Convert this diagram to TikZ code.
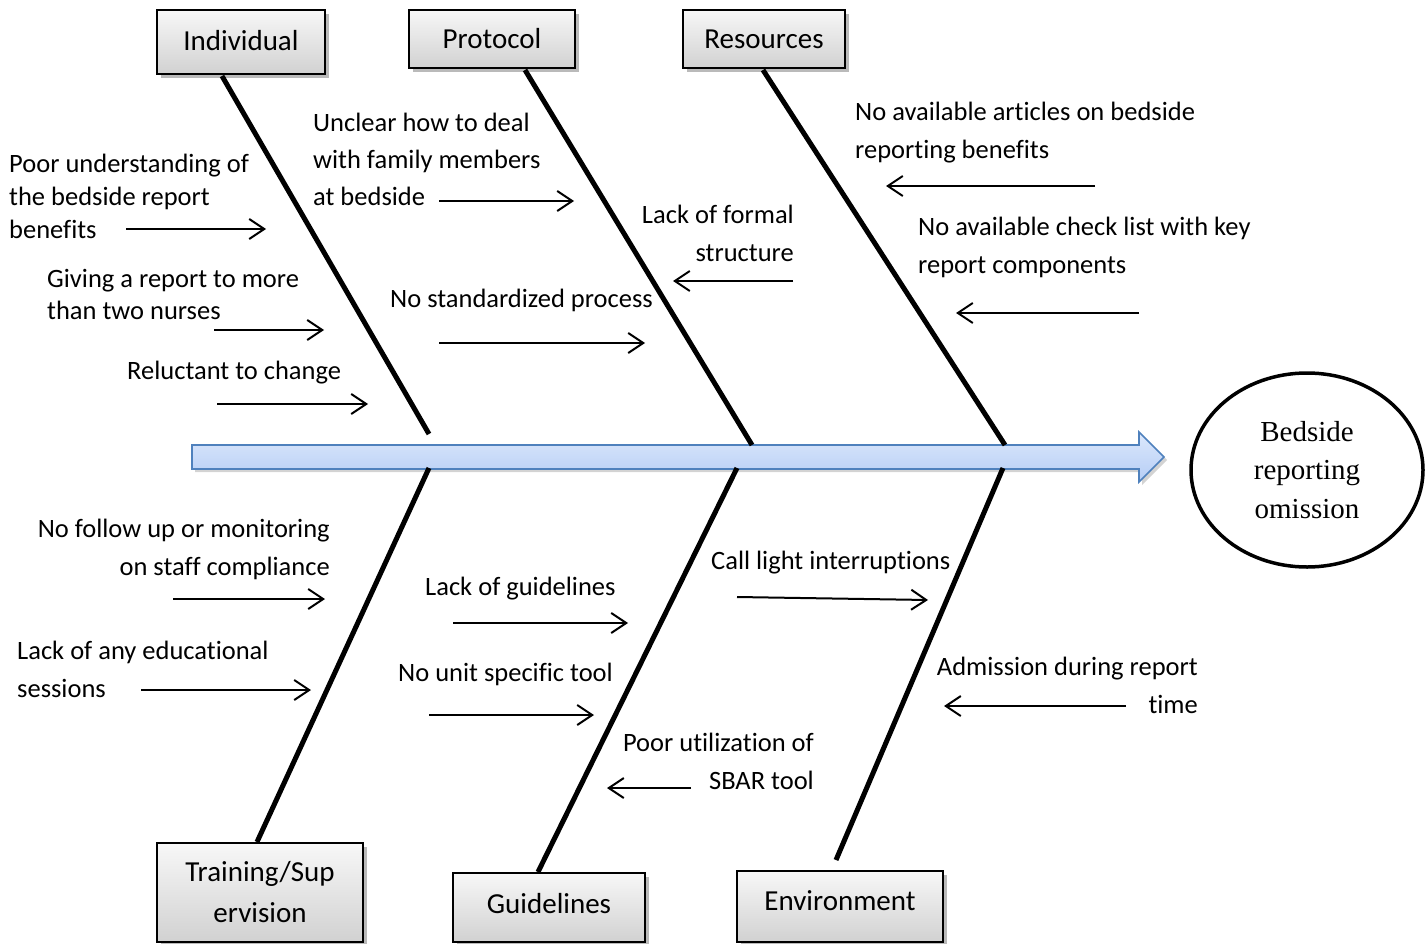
\documentclass[tikz,border=0pt]{standalone}
\usepackage{fontspec}
\setmainfont[Ligatures=NoCommon]{Carlito}
\newfontfamily\tnr{Liberation Serif}
\usetikzlibrary{arrows.meta,shapes.geometric,shadows}
\definecolor{spineborder}{HTML}{4F81BD}
\definecolor{spinetop}{HTML}{DCE8FC}
\definecolor{spinebot}{HTML}{B5CDF5}
\tikzset{
  lbl/.style={inner sep=0pt, font=\fontsize{26.5}{32}\selectfont},
  catbox/.style={draw=black, line width=1.5pt, top color=gray!6, bottom color=gray!36,
     inner sep=0pt, align=center, font=\fontsize{29}{41}\selectfont,
     drop shadow={shadow xshift=4pt, shadow yshift=-4pt, opacity=0.45, fill=black!60}},
  bone/.style={line width=5pt},
  cause/.style={line width=2pt, -{Straight Barb[length=15pt,width=20pt,line width=2pt]}},
}
\begin{document}
\begin{tikzpicture}[x=1pt,y=-1pt]
\useasboundingbox (0,0) rectangle (1426,944);

% category boxes
\node[catbox, minimum width=168pt, minimum height=64pt, text depth=4pt] (ind) at (241,42) {Individual};
\node[catbox, minimum width=166pt, minimum height=58pt] (pro) at (492,39) {Protocol};
\node[catbox, minimum width=162pt, minimum height=58pt] (res) at (764,39) {Resources};
\node[catbox, minimum width=206pt, minimum height=99pt] (tra) at (260,892.5) {Training/Sup\\ervision};
\node[catbox, minimum width=192pt, minimum height=69pt, text depth=9pt] (gui) at (549,907.5) {Guidelines};
\node[catbox, minimum width=206pt, minimum height=71pt, text depth=11pt] (env) at (840,906.5) {Environment};

% spine arrow
\path[draw=spineborder, line width=1.6pt, top color=spinetop, bottom color=spinebot,
  drop shadow={shadow xshift=3pt, shadow yshift=-3pt, opacity=0.35, fill=black!50}]
  (192,445) -- (1139,445) -- (1139,432) -- (1164,457) -- (1139,482) -- (1139,469) -- (192,469) -- cycle;

% effect
\node[draw=black, line width=3.5pt, ellipse, minimum width=232pt, minimum height=194pt,
  inner sep=0pt, align=center, font=\tnr\fontsize{29}{38.5}\selectfont] (eff) at (1307,470)
  {Bedside\\reporting\\omission};

% bones
\coordinate (b1s) at (222,76);  \coordinate (b1e) at (429,434);
\coordinate (b2s) at (525,70);  \coordinate (b2e) at (752,445);
\coordinate (b3s) at (763,70);  \coordinate (b3e) at (1005,445);
\coordinate (b4s) at (429,468); \coordinate (b4e) at (257,842);
\coordinate (b5s) at (737,468); \coordinate (b5e) at (538,872);
\coordinate (b6s) at (1003,468);\coordinate (b6e) at (836,860);
\draw[bone] (b1s) -- (b1e);
\draw[bone] (b2s) -- (b2e);
\draw[bone] (b3s) -- (b3e);
\draw[bone] (b4s) -- (b4e);
\draw[bone] (b5s) -- (b5e);
\draw[bone] (b6s) -- (b6e);

% Individual causes
\node[lbl, anchor=base west] (t1a) at (9,173) {Poor understanding of};
\node[lbl, anchor=base west] (t1b) at (9,206) {the bedside report};
\node[lbl, anchor=base west] (t1c) at (9,238) {benefits};
\coordinate (a1s) at (126,229); \coordinate (a1e) at (266,229);
\draw[cause] (a1s) -- (a1e);

\node[lbl, anchor=base west] (t2a) at (47,287) {Giving a report to more};
\node[lbl, anchor=base west] (t2b) at (47,319) {than two nurses};
\coordinate (a2s) at (214,330); \coordinate (a2e) at (324,330);
\draw[cause] (a2s) -- (a2e);

\node[lbl, anchor=base west] (t3a) at (127,379) {Reluctant to change};
\coordinate (a3s) at (217,404); \coordinate (a3e) at (368,404);
\draw[cause] (a3s) -- (a3e);

% Protocol causes
\node[lbl, anchor=base west] (t4a) at (313,132) {Unclear how to deal};
\node[lbl, anchor=base west] (t4b) at (313,169) {with family members};
\node[lbl, anchor=base west] (t4c) at (313,205) {at bedside};
\coordinate (a4s) at (439,201); \coordinate (a4e) at (574,201);
\draw[cause] (a4s) -- (a4e);

\node[lbl, anchor=base west] (t5a) at (390,307) {No standardized process};
\coordinate (a5s) at (439,343); \coordinate (a5e) at (645,343);
\draw[cause] (a5s) -- (a5e);

\node[lbl, anchor=base east] (t6a) at (794,223) {Lack of formal};
\node[lbl, anchor=base east] (t6b) at (794,261) {structure};
\coordinate (a6s) at (793,281); \coordinate (a6e) at (673,281);
\draw[cause] (a6s) -- (a6e);

% Resources causes
\node[lbl, anchor=base west] (t7a) at (855,121) {No available articles on bedside};
\node[lbl, anchor=base west] (t7b) at (855,159) {reporting benefits};
\coordinate (a7s) at (1095,186); \coordinate (a7e) at (886,186);
\draw[cause] (a7s) -- (a7e);

\node[lbl, anchor=base west] (t8a) at (918,235) {No available check list with key};
\node[lbl, anchor=base west] (t8b) at (918,273) {report components};
\coordinate (a8s) at (1139,313); \coordinate (a8e) at (956,313);
\draw[cause] (a8s) -- (a8e);

% Training causes
\node[lbl, anchor=base east] (t9a) at (330,537) {No follow up or monitoring};
\node[lbl, anchor=base east] (t9b) at (330,575) {on staff compliance};
\coordinate (a9s) at (173,599); \coordinate (a9e) at (325,599);
\draw[cause] (a9s) -- (a9e);

\node[lbl, anchor=base west] (t10a) at (17,659) {Lack of any educational};
\node[lbl, anchor=base west] (t10b) at (17,697) {sessions};
\coordinate (a10s) at (141,690); \coordinate (a10e) at (311,690);
\draw[cause] (a10s) -- (a10e);

% Guidelines causes
\node[lbl, anchor=base west] (t11a) at (425,595) {Lack of guidelines};
\coordinate (a11s) at (453,623); \coordinate (a11e) at (628,623);
\draw[cause] (a11s) -- (a11e);

\node[lbl, anchor=base west] (t12a) at (398,681) {No unit specific tool};
\coordinate (a12s) at (429,715); \coordinate (a12e) at (594,715);
\draw[cause] (a12s) -- (a12e);

\node[lbl, anchor=base east] (t13a) at (814,751) {Poor utilization of};
\node[lbl, anchor=base east] (t13b) at (814,789) {SBAR tool};
\coordinate (a13s) at (691,788); \coordinate (a13e) at (607,788);
\draw[cause] (a13s) -- (a13e);

% Environment causes
\node[lbl, anchor=base west] (t14a) at (711,569) {Call light interruptions};
\coordinate (a14s) at (737,597); \coordinate (a14e) at (928,600);
\draw[cause] (a14s) -- (a14e);

\node[lbl, anchor=base east] (t15a) at (1198,675) {Admission during report};
\node[lbl, anchor=base east] (t15b) at (1198,713) {time};
\coordinate (a15s) at (1126,706); \coordinate (a15e) at (944,706);
\draw[cause] (a15s) -- (a15e);
\end{tikzpicture}
\end{document}
